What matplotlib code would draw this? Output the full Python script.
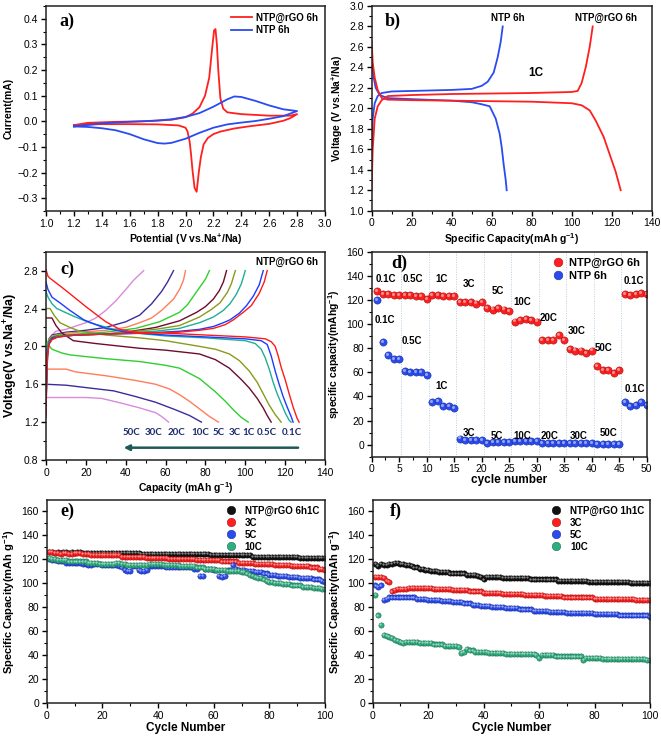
import matplotlib
matplotlib.use('Agg')
import matplotlib.pyplot as plt
from matplotlib.ticker import MultipleLocator
import matplotlib.transforms as mtrans
from matplotlib.colors import to_rgb

plt.rcParams['font.family'] = ['Liberation Sans', 'DejaVu Sans']
plt.rcParams['mathtext.fontset'] = 'custom'
plt.rcParams['mathtext.rm'] = 'Liberation Sans:bold'
plt.rcParams['mathtext.bf'] = 'Liberation Sans:bold'
plt.rcParams['mathtext.it'] = 'Liberation Sans:bold:italic'

# ---------------- data: panel a (CV) ----------------
a_rgo_up_x = [1.2, 1.3, 1.5, 1.7, 1.9, 2.0, 2.05, 2.1, 2.14, 2.17, 2.19, 2.205, 2.215, 2.225, 2.235, 2.25, 2.27, 2.3, 2.4, 2.6, 2.75, 2.8]
a_rgo_up_y = [-0.015, -0.006, -0.002, 0.0, 0.006, 0.016, 0.03, 0.055, 0.1, 0.17, 0.28, 0.355, 0.36, 0.3, 0.2, 0.09, 0.05, 0.035, 0.028, 0.022, 0.022, 0.028]
a_rgo_dn_x = [2.8, 2.75, 2.7, 2.6, 2.45, 2.35, 2.25, 2.2, 2.16, 2.13, 2.11, 2.095, 2.08, 2.065, 2.05, 2.04, 2.03, 2.015, 2.0, 1.95, 1.8, 1.6, 1.4, 1.2]
a_rgo_dn_y = [0.028, 0.012, 0.002, -0.01, -0.02, -0.028, -0.04, -0.05, -0.065, -0.09, -0.14, -0.2, -0.275, -0.26, -0.19, -0.13, -0.08, -0.04, -0.025, -0.016, -0.012, -0.011, -0.011, -0.015]
a_ntp_up_x = [1.2, 1.4, 1.6, 1.8, 1.9, 2.0, 2.1, 2.2, 2.3, 2.35, 2.4, 2.5, 2.6, 2.7, 2.8]
a_ntp_up_y = [-0.02, -0.008, -0.002, 0.003, 0.008, 0.017, 0.032, 0.057, 0.086, 0.097, 0.095, 0.08, 0.062, 0.047, 0.04]
a_ntp_dn_x = [2.8, 2.7, 2.6, 2.5, 2.4, 2.3, 2.2, 2.1, 2.0, 1.9, 1.85, 1.8, 1.7, 1.6, 1.5, 1.4, 1.3, 1.2]
a_ntp_dn_y = [0.04, 0.02, 0.01, 0.001, -0.005, -0.012, -0.025, -0.045, -0.068, -0.084, -0.087, -0.085, -0.07, -0.05, -0.035, -0.027, -0.022, -0.02]

# ---------------- data: panel b (1C charge/discharge) ----------------
b_rgo_ch_x = [0, 0.5, 1.5, 3, 5, 8, 20, 40, 60, 80, 100, 103, 105, 107, 109, 110.5]
b_rgo_ch_y = [1.22, 1.6, 1.9, 2.02, 2.08, 2.12, 2.13, 2.14, 2.145, 2.15, 2.16, 2.17, 2.25, 2.4, 2.6, 2.8]
b_rgo_dis_x = [0, 0.5, 1.5, 3, 5, 8, 20, 40, 60, 80, 100, 105, 109, 112, 116, 119, 122, 124.5]
b_rgo_dis_y = [2.66, 2.45, 2.3, 2.18, 2.1, 2.085, 2.08, 2.075, 2.07, 2.065, 2.05, 2.03, 1.98, 1.88, 1.72, 1.55, 1.38, 1.2]
b_ntp_ch_x = [0, 0.5, 1.5, 3, 5, 10, 20, 40, 50, 55, 58, 61, 63, 64.5, 65.5]
b_ntp_ch_y = [1.5, 1.9, 2.05, 2.12, 2.15, 2.165, 2.17, 2.18, 2.19, 2.22, 2.26, 2.35, 2.5, 2.65, 2.8]
b_ntp_dis_x = [0, 1, 2, 4, 8, 20, 40, 50, 55, 59, 62, 64, 65, 66, 67, 67.5]
b_ntp_dis_y = [2.45, 2.3, 2.2, 2.13, 2.1, 2.09, 2.075, 2.06, 2.04, 2.02, 1.9, 1.75, 1.62, 1.45, 1.3, 1.2]

# ---------------- data: panel c (rate curves) ----------------
c_rates = ['0.1C', '0.5C', '1C', '3C', '5C', '10C', '20C', '30C', '50C']
c_dis_01 = [(0, 2.81), (1, 2.74), (2, 2.72), (10, 2.59), (20, 2.42), (30, 2.26), (37, 2.18), (45, 2.15), (60, 2.14), (80, 2.12), (100, 2.1), (110, 2.08), (113, 2.05), (115, 2.0), (116.5, 1.9), (118, 1.78), (120, 1.65), (122, 1.5), (124, 1.36), (126, 1.24), (127, 1.2)]
c_dis_05 = [(0, 2.68), (1, 2.6), (3, 2.52), (7, 2.46), (12, 2.38), (19, 2.28), (25, 2.23), (30, 2.19), (40, 2.15), (60, 2.12), (80, 2.1), (100, 2.08), (108, 2.06), (111, 2.02), (113, 1.9), (115, 1.74), (117, 1.6), (119, 1.47), (121, 1.36), (123, 1.26), (124, 1.2)]
c_dis_1 = [(0, 2.58), (1, 2.52), (3, 2.45), (5.4, 2.4), (13.7, 2.32), (22, 2.25), (34, 2.18), (45, 2.14), (60, 2.11), (80, 2.09), (100, 2.06), (105, 2.03), (108, 1.97), (110, 1.88), (112, 1.76), (114, 1.62), (116, 1.5), (118, 1.4), (120, 1.3), (122, 1.22), (123, 1.2)]
c_dis_3 = [(0, 2.4), (2, 2.4), (4, 2.33), (7, 2.25), (12, 2.2), (17, 2.16), (30, 2.12), (47, 2.09), (60, 2.06), (77, 2.0), (85, 1.97), (92, 1.92), (97, 1.85), (102, 1.74), (106, 1.62), (109, 1.5), (112, 1.38), (115, 1.28), (118, 1.2)]
c_dis_5 = [(0, 2.3), (3, 2.3), (5, 2.22), (8, 2.14), (13.7, 2.06), (25, 2.03), (47, 1.98), (60, 1.96), (77, 1.92), (85, 1.86), (92, 1.77), (98, 1.65), (102, 1.56), (106, 1.45), (109, 1.35), (111, 1.27), (113, 1.2)]
c_dis_10 = [(0, 2.08), (1, 2.02), (3, 1.97), (8, 1.93), (12, 1.91), (30, 1.87), (47, 1.84), (60, 1.8), (67, 1.77), (77, 1.66), (85, 1.52), (90, 1.42), (94, 1.33), (98, 1.25), (101.5, 1.2)]
c_dis_20 = [(0, 1.76), (10, 1.76), (15, 1.73), (30, 1.69), (45, 1.64), (55, 1.6), (62, 1.55), (67, 1.49), (72, 1.42), (77, 1.34), (82, 1.26), (86.5, 1.2)]
c_dis_30 = [(0, 1.6), (10, 1.59), (22, 1.56), (34, 1.53), (45, 1.47), (55, 1.41), (65, 1.33), (72, 1.27), (78, 1.2)]
c_dis_50 = [(0, 1.46), (10, 1.46), (20, 1.46), (28, 1.45), (38, 1.4), (47, 1.35), (55, 1.3), (58, 1.26), (61.5, 1.2)]
c_ch_01 = [(0, 1.25), (0.3, 1.6), (0.8, 1.9), (1.5, 2.02), (3, 2.07), (6, 2.1), (15, 2.12), (30, 2.13), (50, 2.14), (67, 2.15), (77, 2.17), (84, 2.19), (90, 2.23), (94, 2.28), (99, 2.36), (103, 2.43), (107, 2.56), (109.5, 2.68), (111, 2.8)]
c_ch_05 = [(0, 1.3), (0.3, 1.65), (0.8, 1.92), (1.5, 2.03), (3, 2.08), (6, 2.1), (15, 2.12), (30, 2.13), (50, 2.14), (67, 2.16), (77, 2.18), (84, 2.21), (89, 2.25), (92.3, 2.28), (97, 2.35), (100.6, 2.43), (104, 2.53), (107, 2.65), (109, 2.8)]
c_ch_1 = [(0, 1.3), (0.3, 1.7), (0.8, 1.95), (1.5, 2.04), (3, 2.08), (6, 2.1), (15, 2.12), (30, 2.13), (40, 2.14), (55, 2.16), (67, 2.19), (77, 2.25), (84, 2.31), (89, 2.38), (92.3, 2.45), (95.5, 2.55), (98, 2.66), (100, 2.8)]
c_ch_3 = [(0, 1.3), (0.3, 1.7), (0.8, 1.95), (1.5, 2.04), (3, 2.08), (6, 2.11), (15, 2.12), (30, 2.13), (40, 2.15), (55, 2.18), (67, 2.22), (77, 2.31), (83, 2.39), (87.3, 2.46), (91, 2.57), (93, 2.66), (95, 2.8)]
c_ch_5 = [(0, 1.3), (0.3, 1.72), (0.8, 1.96), (1.5, 2.05), (3, 2.09), (6, 2.11), (15, 2.12), (30, 2.13), (40, 2.15), (55, 2.2), (67, 2.27), (75.6, 2.36), (80, 2.42), (84, 2.5), (87, 2.59), (89, 2.68), (90.6, 2.8)]
c_ch_10 = [(0, 1.3), (0.3, 1.75), (0.8, 1.97), (1.5, 2.06), (3, 2.1), (6, 2.12), (15, 2.13), (30, 2.15), (45, 2.19), (57, 2.26), (67, 2.36), (71, 2.44), (74, 2.53), (77, 2.62), (80, 2.71), (82, 2.8)]
c_ch_20 = [(0, 1.3), (0.3, 1.75), (0.8, 1.98), (1.5, 2.07), (3, 2.11), (10, 2.14), (30, 2.17), (40, 2.2), (47, 2.25), (53, 2.3), (58, 2.38), (64, 2.5), (67, 2.6), (69, 2.7), (70, 2.8)]
c_ch_30 = [(0, 1.3), (0.3, 1.78), (0.8, 2.0), (1.5, 2.08), (3, 2.12), (10, 2.15), (20, 2.17), (30, 2.2), (40, 2.26), (47, 2.33), (53, 2.45), (58, 2.58), (61, 2.68), (64, 2.8)]
c_ch_50 = [(0, 1.3), (0.5, 1.8), (1.5, 2.05), (3, 2.12), (5, 2.16), (10, 2.18), (20, 2.25), (25, 2.3), (30, 2.38), (35, 2.48), (40, 2.6), (44, 2.7), (49, 2.8)]
c_label_x = [43, 53.9, 65.6, 77.3, 86.8, 94.8, 101.5, 110.7, 123.2]
c_label_text = ['50C', '30C', '20C', '10C', '5C', '3C', '1C', '0.5C', '0.1C']

# ---------------- data: panel d (rate capability) ----------------
d_cycle = list(range(1, 51))
d_rgo = [127, 125, 125, 124, 124, 124, 124, 123, 123, 121,
         124, 124, 123, 123, 123, 118, 118, 118, 117, 118,
         113, 112, 113, 112, 111, 102, 103, 104, 103, 102,
         87, 87, 87, 91, 87, 79, 78, 78, 76, 78,
         65, 62, 62, 59, 62, 125, 124, 125, 126, 125]
d_ntp = [120, 85, 74, 71, 71, 61, 60, 60, 60, 58,
         35, 36, 32, 32, 30, 5, 4, 4, 4, 4,
         1, 2, 2, 2, 2, 3, 3, 3, 3, 3,
         1, 1, 1, 1, 1, 1, 1, 1, 1, 1,
         0.5, 0.5, 0.5, 0.5, 0.5, 35, 32, 33, 35, 33]
d_rgo_labels = [('0.1C', 2.6, 137), ('0.5C', 7.4, 137), ('1C', 12.7, 137), ('3C', 17.6, 133),
                ('5C', 23.0, 127), ('10C', 27.3, 118), ('20C', 32.1, 105), ('30C', 37.3, 94),
                ('50C', 42.1, 80), ('0.1C', 47.6, 136)]
d_ntp_labels = [('0.1C', 2.4, 103), ('0.5C', 7.3, 86), ('1C', 12.7, 49), ('3C', 17.6, 9.5),
                ('5C', 22.7, 7.5), ('10C', 27.3, 7.5), ('20C', 32.4, 7.5), ('30C', 37.6, 7.5),
                ('50C', 43.0, 9.5), ('0.1C', 47.9, 46)]

# ---------------- data: panel e (6h, long cycling) ----------------
e_cycle = list(range(1, 101))
e_1c = [126, 126, 125, 126, 125, 126, 126, 125, 126, 125,
        126, 126, 125, 125, 125, 125, 125, 125, 125, 125,
        125, 125, 125, 125, 125, 125, 125, 125, 125, 125,
        125, 125, 125, 124, 124, 124, 124, 124, 124, 124,
        124, 124, 124, 124, 124, 124, 124, 124, 124, 124,
        124, 124, 124, 124, 124, 124, 124, 124, 123, 123,
        123, 123, 123, 123, 123, 123, 123, 123, 123, 123,
        123, 123, 123, 122, 122, 122, 122, 122, 122, 122,
        122, 122, 122, 122, 122, 122, 122, 122, 122, 122,
        121, 121, 121, 121, 121, 121, 121, 121, 121, 121]
e_3c = [126, 126, 125, 125, 124, 125, 125, 124, 124, 125,
        125, 125, 124, 124, 124, 123, 123, 123, 123, 123,
        123, 123, 123, 123, 123, 123, 122, 122, 122, 122,
        122, 122, 122, 122, 122, 121, 121, 121, 121, 121,
        121, 121, 121, 120, 120, 120, 120, 120, 120, 120,
        120, 120, 120, 119, 119, 119, 119, 119, 119, 119,
        119, 119, 118, 118, 118, 118, 118, 118, 117, 117,
        117, 117, 117, 117, 116, 116, 116, 116, 116, 116,
        116, 115, 115, 115, 115, 115, 115, 114, 114, 114,
        114, 114, 114, 114, 113, 113, 113, 112, 112, 111]
e_5c = [120, 119, 119, 118, 118, 118, 117, 117, 117, 117,
        117, 117, 116, 116, 115, 115, 116, 116, 116, 115,
        115, 115, 115, 115, 115, 114, 113, 111, 110, 110,
        114, 114, 111, 110, 110, 111, 114, 114, 114, 114,
        114, 114, 113, 113, 113, 113, 113, 113, 113, 113,
        113, 113, 112, 112, 106, 106, 112, 112, 112, 111,
        111, 106, 105, 106, 111, 111, 115, 112, 111, 111,
        111, 110, 110, 110, 109, 109, 109, 108, 108, 107,
        107, 107, 106, 106, 106, 106, 105, 105, 105, 105,
        104, 104, 104, 104, 104, 103, 103, 103, 102, 101]
e_10c = [121, 120, 120, 119, 119, 119, 119, 118, 118, 118,
         118, 118, 118, 118, 117, 117, 117, 117, 116, 116,
         116, 116, 116, 116, 117, 117, 116, 116, 115, 115,
         115, 115, 115, 115, 115, 115, 116, 116, 116, 116,
         116, 115, 115, 115, 115, 115, 115, 114, 114, 114,
         114, 114, 114, 113, 113, 113, 112, 112, 112, 112,
         111, 111, 111, 111, 110, 110, 110, 110, 110, 109,
         109, 108, 107, 106, 105, 104, 104, 103, 102, 101,
         101, 100, 100, 100, 99, 99, 99, 98, 98, 98,
         98, 97, 97, 97, 97, 96, 96, 96, 95, 95]

# ---------------- data: panel f (1h, long cycling) ----------------
f_cycle = list(range(1, 101))
f_1c = [116, 114, 116, 115, 115, 116, 116, 117, 117, 116,
        116, 115, 115, 114, 113, 113, 112, 112, 111, 111,
        110, 110, 110, 109, 109, 109, 109, 108, 108, 108,
        108, 108, 108, 107, 107, 107, 107, 106, 105, 103,
        105, 105, 105, 105, 105, 105, 104, 104, 104, 104,
        104, 104, 104, 104, 104, 104, 103, 103, 103, 103,
        103, 103, 103, 103, 103, 103, 102, 102, 102, 102,
        102, 102, 102, 102, 102, 102, 102, 101, 101, 101,
        101, 101, 101, 101, 101, 101, 101, 101, 101, 101,
        101, 101, 100, 100, 100, 100, 100, 100, 100, 100]
f_3c = [105, 105, 105, 104, 102, 101, 93, 94, 95, 95,
        95, 95, 96, 96, 96, 96, 96, 96, 96, 96,
        96, 95, 95, 95, 95, 95, 95, 95, 94, 94,
        94, 94, 94, 94, 93, 93, 93, 93, 93, 92,
        92, 92, 92, 92, 92, 92, 91, 91, 91, 91,
        91, 91, 91, 91, 90, 90, 90, 90, 90, 90,
        90, 89, 89, 89, 89, 89, 89, 89, 88, 88,
        88, 88, 88, 88, 88, 88, 88, 88, 88, 87,
        87, 87, 87, 87, 87, 87, 87, 87, 87, 87,
        87, 87, 87, 87, 86, 86, 86, 86, 86, 86]
f_5c = [98, 97, 98, 86, 87, 88, 88, 88, 88, 88,
        88, 88, 88, 88, 88, 87, 87, 87, 87, 86,
        86, 86, 86, 86, 85, 85, 85, 85, 84, 84,
        84, 84, 83, 83, 83, 82, 82, 82, 81, 81,
        81, 81, 80, 80, 80, 80, 80, 79, 79, 79,
        79, 79, 78, 78, 78, 78, 78, 77, 77, 77,
        77, 77, 77, 76, 76, 76, 76, 76, 76, 75,
        75, 75, 75, 75, 75, 75, 75, 75, 75, 74,
        74, 74, 74, 74, 74, 74, 74, 74, 73, 73,
        73, 73, 73, 73, 73, 73, 73, 73, 73, 72]
f_10c = [90, 73, 65, 57, 56, 55, 54, 53, 52, 51,
         50, 51, 51, 51, 51, 51, 50, 50, 50, 50,
         50, 49, 49, 49, 49, 48, 48, 48, 48, 48,
         47, 42, 43, 45, 44, 44, 43, 43, 43, 43,
         43, 42, 42, 42, 42, 42, 42, 41, 41, 41,
         41, 41, 41, 41, 41, 41, 41, 41, 40, 38,
         40, 40, 40, 40, 40, 39, 39, 39, 39, 39,
         39, 39, 39, 39, 39, 36, 38, 38, 38, 38,
         38, 38, 37, 37, 37, 37, 37, 37, 37, 37,
         37, 37, 37, 37, 37, 37, 37, 37, 36, 36]

# ---------------- styling helpers ----------------
RED = '#ff1f1f'
BLUE = '#2a4bf0'
BLACK = '#111111'
TEAL = '#2fae80'
SERIF = ['Liberation Serif', 'DejaVu Serif']

fig = plt.figure(figsize=(6.61, 7.42), dpi=100)
W, H = 661.0, 742.0


def make_ax(l, r, t, b):
    return fig.add_axes([l / W, 1 - b / H, (r - l) / W, (b - t) / H])


def style(ax, xmaj, xmin, ymaj, ymin, fs=7.5):
    for s in ax.spines.values():
        s.set_linewidth(1.1)
        s.set_color('#222222')
    ax.xaxis.set_major_locator(MultipleLocator(xmaj))
    ax.xaxis.set_minor_locator(MultipleLocator(xmin))
    ax.yaxis.set_major_locator(MultipleLocator(ymaj))
    ax.yaxis.set_minor_locator(MultipleLocator(ymin))
    ax.tick_params(which='major', direction='out', length=3.5, width=1.0, labelsize=fs, pad=2,
                   top=False, right=False)
    ax.tick_params(which='minor', direction='out', length=2, width=0.8, top=False, right=False)


def letter(ax, x, y, s):
    ax.text(x, y, s, transform=ax.transAxes, ha='left', va='top', fontsize=13,
            fontweight='bold', family=SERIF)


def mix(c, w, f):
    r = to_rgb(c)
    w = to_rgb(w)
    return tuple(r[i] * (1 - f) + w[i] * f for i in range(3))


def balls(ax, x, y, color, ms, label=None):
    h, = ax.plot(x, y, 'o', ms=ms, mfc=color, mec=mix(color, 'black', 0.35), mew=0.4,
                 ls='none', label=label, clip_on=True)
    tr = mtrans.offset_copy(ax.transData, fig=fig, x=-ms * 0.16, y=ms * 0.16, units='points')
    ax.plot(x, y, 'o', ms=ms * 0.42, mfc=mix(color, 'white', 0.55), mec='none',
            ls='none', transform=tr, alpha=0.9)
    return h


LBL = dict(fontsize=7.5, fontweight='bold')

# ---------------- panel a ----------------
ax = make_ax(46, 325, 6, 211)
ax.plot(a_rgo_up_x + a_rgo_dn_x, a_rgo_up_y + a_rgo_dn_y, color=RED, lw=1.3, label='NTP@rGO 6h')
ax.plot(a_ntp_up_x + a_ntp_dn_x, a_ntp_up_y + a_ntp_dn_y, color=BLUE, lw=1.3, label='NTP 6h')
ax.set_xlim(1.0, 3.0)
ax.set_ylim(-0.35, 0.45)
style(ax, 0.2, 0.1, 0.1, 0.05)
ax.set_yticks([-0.3, -0.2, -0.1, 0.0, 0.1, 0.2, 0.3, 0.4])
ax.set_xlabel('Potential (V vs.Na$^{+}$/Na)', labelpad=2, **LBL)
ax.set_ylabel('Current(mA)', labelpad=3, **LBL)
ax.legend(loc='upper right', bbox_to_anchor=(1.0, 1.0), frameon=False, handlelength=2.2,
          handletextpad=0.4, labelspacing=0.25, borderaxespad=0.3,
          prop=dict(size=7, weight='bold'))
letter(ax, 0.048, 0.965, 'a)')

# ---------------- panel b ----------------
ax = make_ax(371.7, 651.7, 6, 210.7)
ax.plot(b_ntp_ch_x, b_ntp_ch_y, color=BLUE, lw=1.3)
ax.plot(b_ntp_dis_x, b_ntp_dis_y, color=BLUE, lw=1.3)
ax.plot(b_rgo_ch_x, b_rgo_ch_y, color=RED, lw=1.3)
ax.plot(b_rgo_dis_x, b_rgo_dis_y, color=RED, lw=1.3)
ax.set_xlim(0, 140)
ax.set_ylim(1.0, 3.0)
style(ax, 20, 10, 0.2, 0.1)
ax.set_xlabel('Specific Capacity(mAh g$^{-1}$)', labelpad=2, **LBL)
ax.set_ylabel('Voltage (V vs.Na$^{+}$/Na)', labelpad=3, **LBL)
ax.text(68, 2.88, 'NTP 6h', ha='center', va='center', fontsize=7, fontweight='bold')
ax.text(117, 2.88, 'NTP@rGO 6h', ha='center', va='center', fontsize=7, fontweight='bold')
ax.text(82, 2.35, '1C', ha='center', va='center', fontsize=8.5, fontweight='bold')
letter(ax, 0.048, 0.965, 'b)')

# ---------------- panel c ----------------
ax = make_ax(46, 325, 251.7, 460)
c_colors = ['#ff1a1a', '#1a3cff', '#1fae96', '#8a9a1c', '#6e0b2e', '#2ed02e', '#ff7d5c', '#3b2c9c', '#d98ad9']
c_dis = [c_dis_01, c_dis_05, c_dis_1, c_dis_3, c_dis_5, c_dis_10, c_dis_20, c_dis_30, c_dis_50]
c_ch = [c_ch_01, c_ch_05, c_ch_1, c_ch_3, c_ch_5, c_ch_10, c_ch_20, c_ch_30, c_ch_50]
for col, dis, ch in zip(c_colors[::-1], c_dis[::-1], c_ch[::-1]):
    ax.plot([p[0] for p in dis], [p[1] for p in dis], color=col, lw=1.0)
    ax.plot([p[0] for p in ch], [p[1] for p in ch], color=col, lw=1.0)
ax.set_xlim(0, 140)
ax.set_ylim(0.8, 3.0)
style(ax, 20, 10, 0.4, 0.2, fs=7.5)
ax.set_yticks([0.8, 1.2, 1.6, 2.0, 2.4, 2.8])
ax.set_xlabel('Capacity (mAh g$^{-1}$)', labelpad=2, fontsize=7.5, fontweight='bold')
ax.set_ylabel('Voltage(V vs.Na$^{+}$/Na)', labelpad=3, fontsize=9, fontweight='bold')
for xx, tt in zip(c_label_x, c_label_text):
    ax.text(xx, 1.09, tt, ha='center', va='center', fontsize=7, fontweight='bold',
            family=['Lato', 'DejaVu Sans'], color='#1c2a6e')
ax.annotate('', xy=(39.0, 0.93), xytext=(126.5, 0.93),
            arrowprops=dict(arrowstyle='-|>', color='#1d5a57', lw=1.8, mutation_scale=8,
                            shrinkA=0, shrinkB=0))
ax.text(136.5, 2.895, 'NTP@rGO 6h', ha='right', va='center', fontsize=7, fontweight='bold')
letter(ax, 0.05, 0.955, 'c)')

# ---------------- panel d ----------------
ax = make_ax(371.7, 646.7, 251.7, 456.7)
for k in range(1, 10):
    ax.axvline(5 * k + 0.4, color='#b9cfe0', lw=0.7, ls=(0, (1, 1.5)), zorder=0)
h1 = balls(ax, d_cycle, d_rgo, RED, 5.2, 'NTP@rGO 6h')
h2 = balls(ax, d_cycle, d_ntp, BLUE, 5.2, 'NTP 6h')
ax.set_xlim(0, 50)
ax.set_ylim(-10, 160)
style(ax, 5, 2.5, 20, 10)
ax.set_yticks(list(range(0, 161, 20)))
for t, xx, yy in d_rgo_labels + d_ntp_labels:
    ax.text(xx, yy, t, ha='center', va='center', fontsize=7, fontweight='bold')
ax.set_xlabel('cycle number', labelpad=0, fontsize=8.5, fontweight='bold')
ax.set_ylabel('specific capacity(mAhg$^{-1}$)', labelpad=3, **LBL)
ax.legend(handles=[h1, h2], loc='upper right', bbox_to_anchor=(1.0, 1.0), frameon=False,
          handlelength=1.0, handletextpad=0.5, labelspacing=0.25, borderaxespad=0.2,
          markerscale=1.2, prop=dict(size=8, weight='bold'))
letter(ax, 0.07, 0.985, 'd)')

# ---------------- panel e ----------------
ax = make_ax(46.7, 325, 500, 703.3)
he = [balls(ax, e_cycle, e_1c, BLACK, 3.8, 'NTP@rGO 6h1C'),
      balls(ax, e_cycle, e_3c, RED, 3.8, '3C'),
      balls(ax, e_cycle, e_5c, BLUE, 3.8, '5C'),
      balls(ax, e_cycle, e_10c, TEAL, 3.8, '10C')]
ax.set_xlim(0, 100)
ax.set_ylim(0, 169)
style(ax, 20, 10, 20, 10)
ax.set_yticks(list(range(0, 161, 20)))
ax.set_xlabel('Cycle Number', labelpad=1, fontsize=8.5, fontweight='bold')
ax.set_ylabel('Specific Capacity(mAh g$^{-1}$)', labelpad=3, fontsize=8, fontweight='bold')
ax.legend(handles=he, loc='upper right', bbox_to_anchor=(1.0, 1.0), frameon=False,
          handlelength=1.0, handletextpad=0.9, labelspacing=0.2, borderaxespad=0.2,
          markerscale=1.6, prop=dict(size=7, weight='bold'))
letter(ax, 0.048, 0.985, 'e)')

# ---------------- panel f ----------------
ax = make_ax(372.7, 650, 500, 703.3)
hf = [balls(ax, f_cycle, f_1c, BLACK, 3.8, 'NTP@rGO 1h1C'),
      balls(ax, f_cycle, f_3c, RED, 3.8, '3C'),
      balls(ax, f_cycle, f_5c, BLUE, 3.8, '5C'),
      balls(ax, f_cycle, f_10c, TEAL, 3.8, '10C')]
ax.set_xlim(0, 100)
ax.set_ylim(0, 169)
style(ax, 20, 10, 20, 10)
ax.set_yticks(list(range(0, 161, 20)))
ax.set_xlabel('Cycle Number', labelpad=1, fontsize=8.5, fontweight='bold')
ax.set_ylabel('Specific Capacity(mAh g$^{-1}$)', labelpad=3, fontsize=8, fontweight='bold')
ax.legend(handles=hf, loc='upper right', bbox_to_anchor=(1.0, 1.0), frameon=False,
          handlelength=1.0, handletextpad=0.9, labelspacing=0.2, borderaxespad=0.2,
          markerscale=1.6, prop=dict(size=7, weight='bold'))
letter(ax, 0.062, 0.985, 'f)')

fig.savefig('out.png', dpi=100)
